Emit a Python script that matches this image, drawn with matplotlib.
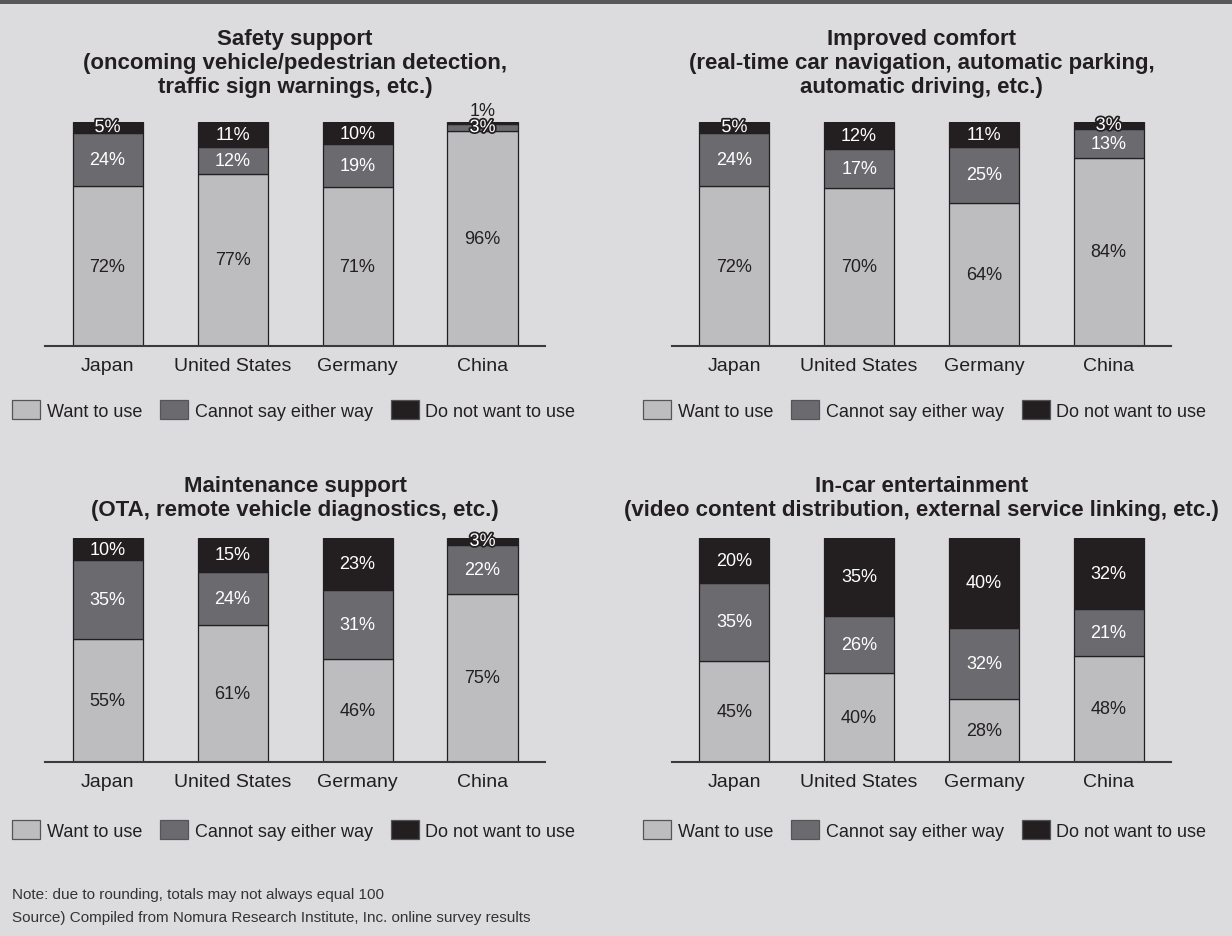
import matplotlib
matplotlib.use('Agg')
import matplotlib.pyplot as plt
import matplotlib.patheffects as pe
import numpy as np
from matplotlib.patches import Patch, Rectangle

plt.rcParams['font.family'] = ['Liberation Sans', 'DejaVu Sans']

# ---- data ----
countries = ['Japan', 'United States', 'Germany', 'China']
series_names = ['Want to use', 'Cannot say either way', 'Do not want to use']
titles = [
    'Safety support\n(oncoming vehicle/pedestrian detection,\ntraffic sign warnings, etc.)',
    'Improved comfort\n(real-time car navigation, automatic parking,\nautomatic driving, etc.)',
    'Maintenance support\n(OTA, remote vehicle diagnostics, etc.)',
    'In-car entertainment\n(video content distribution, external service linking, etc.)',
]
want_to_use = [
    [72, 77, 71, 96],
    [72, 70, 64, 84],
    [55, 61, 46, 75],
    [45, 40, 28, 48],
]
cannot_say = [
    [24, 12, 19, 3],
    [24, 17, 25, 13],
    [35, 24, 31, 22],
    [35, 26, 32, 21],
]
do_not_want = [
    [5, 11, 10, 1],
    [5, 12, 11, 3],
    [10, 15, 23, 3],
    [20, 35, 40, 32],
]
note_lines = [
    'Note: due to rounding, totals may not always equal 100',
    'Source) Compiled from Nomura Research Institute, Inc. online survey results',
]

# ---- style ----
W, H = 1232, 937
bg = '#dcdcde'
ink = '#231f20'
colors = ['#bdbdc0', '#6b6b6f', '#231f20']
# axes boxes in pixels: left, top, right, bottom
boxes = [(45, 123, 545, 347), (672, 123, 1171, 347),
         (45, 539, 545, 763), (672, 539, 1171, 763)]
title_pads = [21.5, 21.5, 16.5, 16.5]
legend_pos = [(12, 411), (643, 411), (12, 831), (643, 831)]

fig = plt.figure(figsize=(W / 100, H / 100), dpi=100, facecolor=bg)
fig.add_artist(Rectangle((0, 1 - 5 / H), 1, 5 / H, transform=fig.transFigure,
                         facecolor='#58585a', edgecolor='none'))

for k in range(4):
    l, t, r, b = boxes[k]
    ax = fig.add_axes([l / W, 1 - b / H, (r - l) / W, (b - t) / H])
    ax.set_facecolor('none')

    vals = np.array([want_to_use[k], cannot_say[k], do_not_want[k]], float)
    totals = vals.sum(axis=0)
    shares = vals / totals * 100  # bars are drawn to a common 100% height
    x = np.arange(len(countries))
    bottom = np.zeros(len(countries))
    for s in range(3):
        ax.bar(x, shares[s], 0.56, bottom=bottom, color=colors[s],
               edgecolor=ink, linewidth=0.9, zorder=2)
        for i in range(len(countries)):
            v = int(vals[s, i])
            yc = bottom[i] + shares[s, i] / 2
            if v <= 2:
                ax.text(x[i], bottom[i] + shares[s, i] + 5, f'{v}%',
                        ha='center', va='center', fontsize=13, color=ink,
                        clip_on=False)
            elif v <= 5:
                ax.text(x[i], yc, f'{v}%', ha='center', va='center',
                        fontsize=13, color='white', zorder=4,
                        path_effects=[pe.withStroke(linewidth=2.5, foreground=ink)])
            else:
                ax.text(x[i], yc, f'{v}%', ha='center', va='center',
                        fontsize=13, color=ink if s == 0 else 'white', zorder=4)
        bottom += shares[s]

    ax.set_xlim(-0.5, 3.5)
    ax.set_ylim(0, 100)
    ax.set_yticks([])
    ax.set_xticks(x, countries, fontsize=14, color=ink)
    ax.tick_params(axis='x', length=0, pad=8)
    for side in ['top', 'right', 'left']:
        ax.spines[side].set_visible(False)
    ax.spines['bottom'].set_color('#3a3a3c')
    ax.spines['bottom'].set_linewidth(1.5)
    ax.spines['bottom'].set_zorder(3)

    ax.set_title(titles[k], fontsize=16, fontweight='bold', color=ink,
                 pad=title_pads[k], linespacing=1.2)

    handles = [Patch(facecolor=c, edgecolor='#555558', linewidth=0.9) for c in colors]
    lx, ly = legend_pos[k]
    leg = ax.legend(handles, series_names, loc='center left',
                    bbox_to_anchor=(lx / W, 1 - ly / H), bbox_transform=fig.transFigure,
                    ncol=3, frameon=False, fontsize=13, handlelength=1.56,
                    handleheight=1.17, handletextpad=0.36, columnspacing=1.0,
                    borderpad=0, borderaxespad=0)
    for txt in leg.get_texts():
        txt.set_color(ink)

for j, line in enumerate(note_lines):
    fig.text(12 / W, 1 - (895 + 23 * j) / H, line, ha='left', va='center',
             fontsize=11, color='#333335')

fig.savefig('out.png', dpi=100, facecolor=bg)
